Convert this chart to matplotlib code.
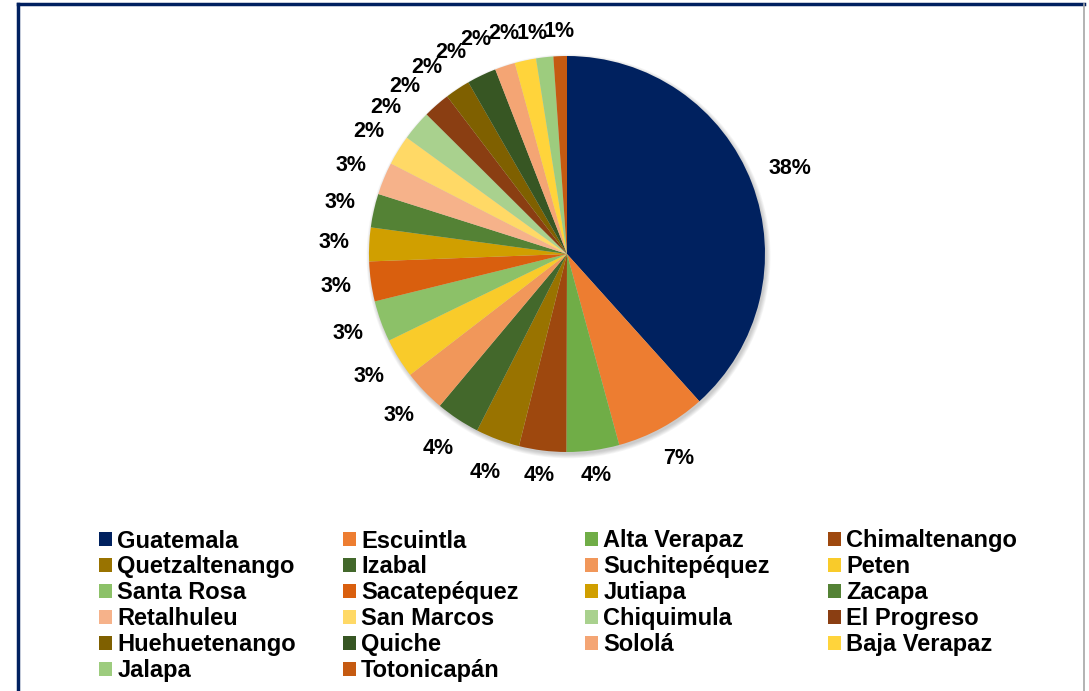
import numpy as np
import matplotlib.pyplot as plt
from matplotlib.patches import Patch, Circle
from matplotlib.lines import Line2D

plt.rcParams['font.family'] = ['Liberation Sans', 'DejaVu Sans']

# departamentos y porcentaje aproximado
departamentos = ['Guatemala', 'Escuintla', 'Alta Verapaz', 'Chimaltenango',
                 'Quetzaltenango', 'Izabal', 'Suchitepéquez', 'Peten',
                 'Santa Rosa', 'Sacatepéquez', 'Jutiapa', 'Zacapa',
                 'Retalhuleu', 'San Marcos', 'Chiquimula', 'El Progreso',
                 'Huehuetenango', 'Quiche', 'Sololá', 'Baja Verapaz',
                 'Jalapa', 'Totonicapán']
valores = [38.35, 7.4, 4.3, 3.85, 3.6, 3.6, 3.45, 3.25, 3.35, 3.25, 2.75, 2.75,
           2.65, 2.45, 2.45, 2.2, 2.05, 2.4, 1.65, 1.75, 1.4, 1.1]
colores = ['#00215F', '#ED7D31', '#70AD47', '#9E480E', '#997300', '#43682B',
           '#F1975A', '#F9CB2A', '#8CC168', '#D95F0E', '#D09F00', '#548235',
           '#F6B28A', '#FFD966', '#A9D18E', '#8A3E12', '#7F6000', '#375623',
           '#F4A574', '#FFD43B', '#9DCC7E', '#C55A11']

fig = plt.figure(figsize=(10.89, 6.91), dpi=100)

# pie axes: center (567, 254) px, radius 198 px
R = 198
lim = 1.3
size = 2 * lim * R
cx, cy = 567, 691 - 254
ax = fig.add_axes([(cx - size / 2) / 1089, (cy - size / 2) / 691, size / 1089, size / 691])

# sombra suave
for k in range(6):
    ax.add_patch(Circle((0.008, -0.012), 1.0 + k * 0.004, facecolor='black',
                        edgecolor='none', alpha=0.035, zorder=0))

wedges, _ = ax.pie(valores, colors=colores, startangle=90, counterclock=False,
                   wedgeprops=dict(linewidth=0, zorder=2))
ax.set_xlim(-lim, lim)
ax.set_ylim(-lim, lim)
ax.set_aspect('equal')
ax.axis('off')

# etiquetas fuera del borde (como Excel), separando las de arriba
total = sum(valores)
fs = 15.5
em = fs * 100 / 72
gap = 19.5
mids = [((w.theta1 + w.theta2) / 2) % 360 for w in wedges]
angulos = list(mids)
prev = None
for i in range(len(wedges) - 1, -1, -1):
    a = mids[i]
    if a < 80:
        a += 360
    if prev is not None and a < prev + 7 and a < 200:
        a = prev + 7
    angulos[i] = a
    prev = a
for v, a_deg in zip(valores, angulos):
    txt = f'{round(100 * v / total + 1e-9):.0f}%'
    ang = np.deg2rad(a_deg)
    c, s = np.cos(ang), np.sin(ang)
    half_w = 0.5 * em * (0.556 * (len(txt) - 1) + 0.889)
    t = np.clip((abs(s) - 0.95) / 0.03, 0, 1)
    extra = (1 - t) * (gap + half_w) + t * 25
    r = (R + extra) / R
    ax.text(r * c, r * s, txt, ha='center', va='center', fontsize=fs,
            fontweight='bold', color='black', zorder=3)

# leyenda en 4 columnas (orden por filas)
col_x = [99, 343, 585, 828]
for j in range(4):
    idx = list(range(j, len(departamentos), 4))
    handles = [Patch(facecolor=colores[i], edgecolor='none') for i in idx]
    fig.legend(handles, [departamentos[i] for i in idx], loc='upper left',
               bbox_to_anchor=(col_x[j] / 1089, 1 - 529.5 / 691),
               frameon=False, borderpad=0, borderaxespad=0,
               handlelength=0.55, handleheight=0.55, handletextpad=0.22,
               labelspacing=0.127,
               prop=dict(size=17, weight='bold'))

# marco
fig.add_artist(Line2D([18 / 1089, 18 / 1089], [0, 1 - 3.5 / 691], color='#002060', linewidth=2.5, transform=fig.transFigure))
fig.add_artist(Line2D([18 / 1089, 1084 / 1089], [1 - 3.5 / 691, 1 - 3.5 / 691], color='#002060', linewidth=2.5, transform=fig.transFigure))
fig.add_artist(Line2D([1084 / 1089, 1084 / 1089], [0, 1 - 3.5 / 691], color='#A6A6A6', linewidth=1.2, transform=fig.transFigure))

plt.savefig('out.png', dpi=100)
